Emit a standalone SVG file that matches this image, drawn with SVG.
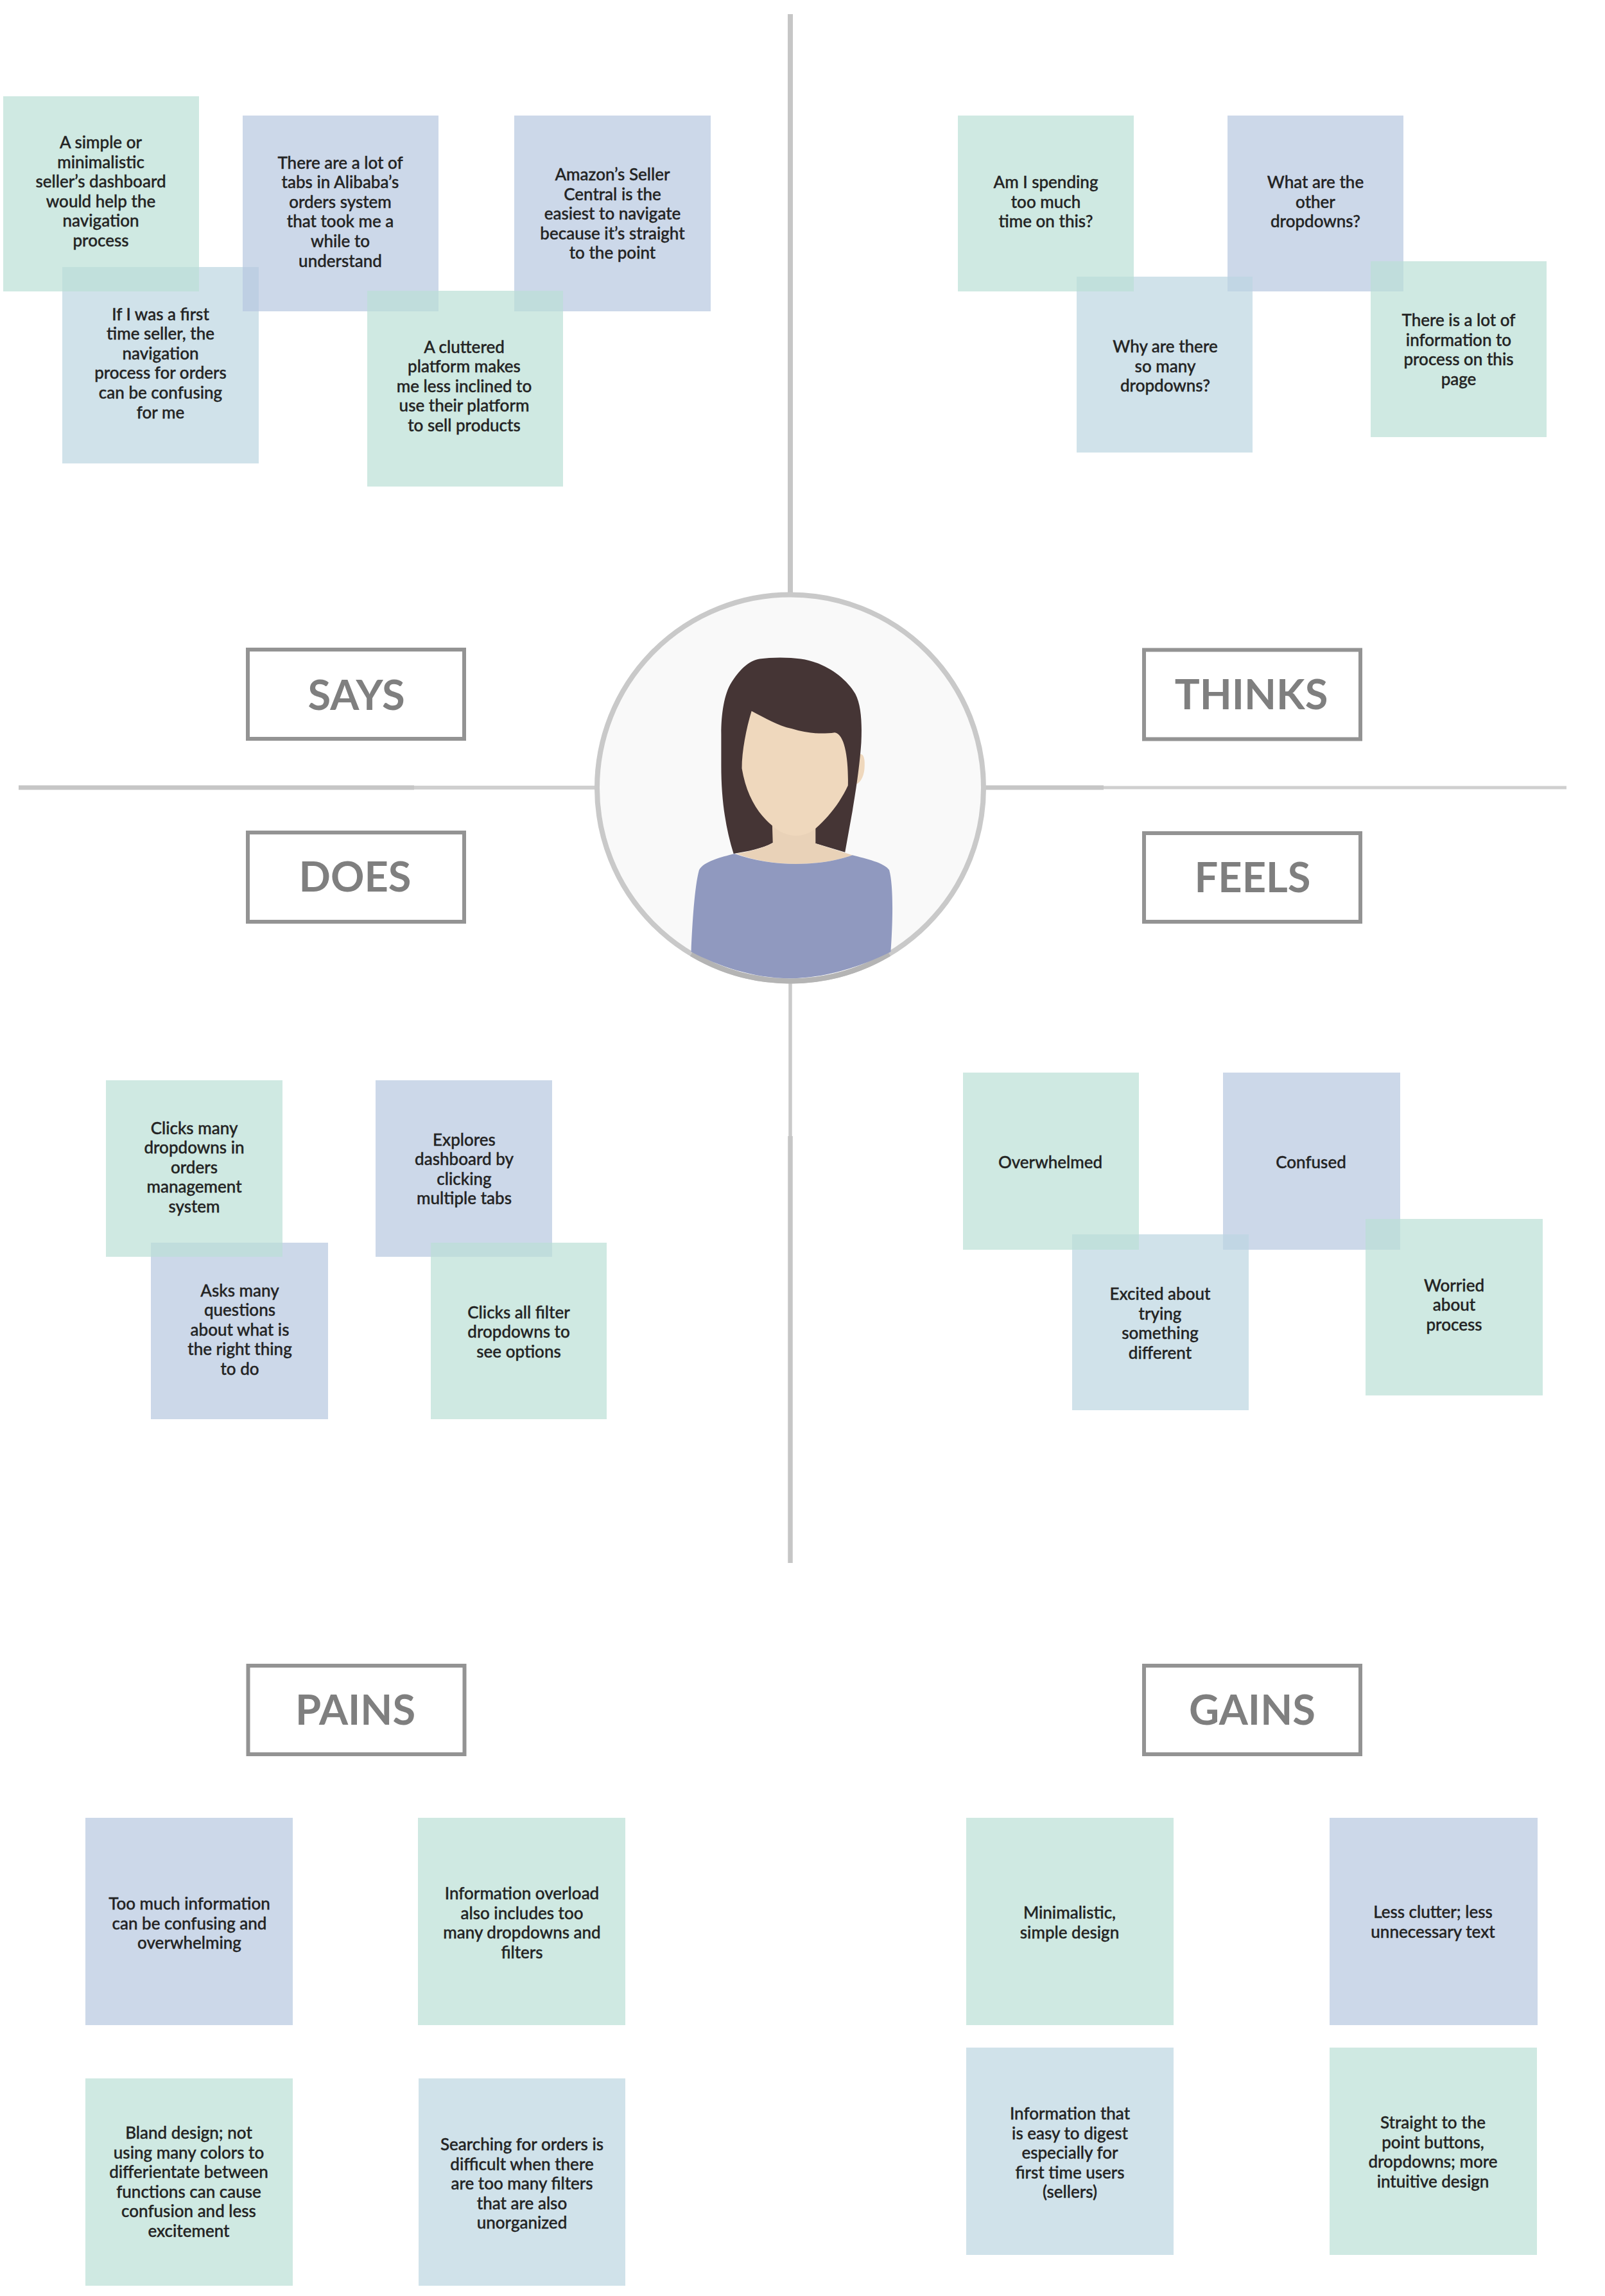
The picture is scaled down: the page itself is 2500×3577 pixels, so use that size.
<svg xmlns="http://www.w3.org/2000/svg" width="2500" height="3577" viewBox="0 0 2500 3577">
<style>
.g{fill:#bbe0d6;fill-opacity:.7}
.b{fill:#b6c7e0;fill-opacity:.7}
.l{fill:#bcd6e1;fill-opacity:.7}
.n{font-family:Lato,"Liberation Sans",sans-serif;font-size:26px;font-weight:500;fill:#232323;stroke:#232323;stroke-width:.4px;text-anchor:middle}
.t{font-family:Lato,"Liberation Sans",sans-serif;font-size:65px;font-weight:700;fill:#7f7f7f;text-anchor:middle}
.f{fill:#fff;stroke:#939393;stroke-width:6}
.c{stroke:#c6c6c6;fill:none}
.d{stroke:#cfcfcf;fill:none}
</style>
<rect width="2500" height="3577" fill="#fff"/>
<g id="connectors">
<line class="c" x1="1231" y1="22" x2="1231" y2="930" stroke-width="8"/>
<line class="d" x1="1231" y1="1525" x2="1231" y2="1772" stroke-width="5.500" style="stroke:#cacaca"/>
<line class="c" x1="1231" y1="1770" x2="1231" y2="2435" stroke-width="7.500"/>
<line class="c" x1="29" y1="1227" x2="645" y2="1227" stroke-width="7"/>
<line class="d" x1="645" y1="1227" x2="935" y2="1227" stroke-width="6"/>
<line class="c" x1="1530" y1="1227" x2="1719" y2="1227" stroke-width="7"/>
<line class="d" x1="1719" y1="1227" x2="2440" y2="1227" stroke-width="5"/>
</g>
<g id="persona">
<circle cx="1231" cy="1227.5" r="301" fill="#f9f9f9" stroke="#c9c9c9" stroke-width="8"/>
<path d="M1077 1486A301 301 0 0 0 1385 1486" fill="none" stroke="#b4b4b4" stroke-width="8"/>
<g transform="translate(880 880) scale(.4592 .4464)">
<path fill="#efd8bd" d="M1000 660C1015 660 1018 680 1016 710C1014 740 1000 765 985 765Z"/>
<path fill="#453535" d="M572 1008C545 920 530 820 530 700L530 590C530 520 540 450 565 410C590 370 620 335 660 328C700 322 760 322 800 328C880 340 950 390 985 450C1005 490 1008 550 1005 620C1000 700 985 800 975 860L950 1003L850 972L705 970C670 990 620 1000 572 1008Z"/>
<path fill="#e9d2b8" d="M703 905L705 970C670 990 620 1002 580 1008C700 1055 860 1055 975 1013L850 972L850 915Z"/>
<path fill="#efd8bd" d="M633 510C680 535 720 560 770 572C820 588 870 592 915 585C950 590 962 680 960 770C935 825 900 875 850 920C810 955 750 955 703 910C650 865 615 800 600 710C600 650 615 570 633 510Z"/>
<path fill="#9099bf" d="M575 1008C530 1020 470 1035 455 1065C440 1120 432 1250 428 1350C520 1400 640 1443 765 1443C880 1443 1010 1400 1105 1350C1112 1250 1115 1120 1100 1065C1085 1040 1020 1025 975 1013C860 1055 700 1055 575 1008Z"/>
</g>
</g>

<g id="says">
<g id="says-label"><rect class="f" x="386" y="1012" width="337" height="139"/><text class="t" x="555" y="1106">SAYS</text></g>
<g id="s4"><rect class="l" x="97" y="416" width="306" height="306"/><text class="n" y="498.500"><tspan x="250">If I was a first</tspan><tspan x="250" dy="30.6">time seller, the</tspan><tspan x="250" dy="30.6">navigation</tspan><tspan x="250" dy="30.6">process for orders</tspan><tspan x="250" dy="30.6">can be confusing</tspan><tspan x="250" dy="30.6">for me</tspan></text></g>
<g id="s2"><rect class="b" x="378" y="180" width="305" height="305"/><text class="n" y="262.6"><tspan x="530">There are a lot of</tspan><tspan x="530" dy="30.6">tabs in Alibaba’s</tspan><tspan x="530" dy="30.6">orders system</tspan><tspan x="530" dy="30.6">that took me a</tspan><tspan x="530" dy="30.6">while to</tspan><tspan x="530" dy="30.6">understand</tspan></text></g>
<g id="s3"><rect class="b" x="801" y="180" width="306" height="305"/><text class="n" y="281"><tspan x="954">Amazon’s Seller</tspan><tspan x="954" dy="30.6">Central is the</tspan><tspan x="954" dy="30.6">easiest to navigate</tspan><tspan x="954" dy="30.6">because it’s straight</tspan><tspan x="954" dy="30.6">to the point</tspan></text></g>
<g id="s1"><rect class="g" x="5" y="150" width="305" height="304"/><text class="n" y="231"><tspan x="157">A simple or</tspan><tspan x="157" dy="30.6">minimalistic</tspan><tspan x="157" dy="30.6">seller’s dashboard</tspan><tspan x="157" dy="30.6">would help the</tspan><tspan x="157" dy="30.6">navigation</tspan><tspan x="157" dy="30.6">process</tspan></text></g>
<g id="s5"><rect class="g" x="572" y="453" width="305" height="305"/><text class="n" y="549.6"><tspan x="723">A cluttered</tspan><tspan x="723" dy="30.6">platform makes</tspan><tspan x="723" dy="30.6">me less inclined to</tspan><tspan x="723" dy="30.6">use their platform</tspan><tspan x="723" dy="30.6">to sell products</tspan></text></g>
</g>

<g id="thinks">
<g id="thinks-label"><rect class="f" x="1782" y="1012.5" width="337" height="139"/><text class="t" x="1949" y="1105">THINKS</text></g>
<g id="t2"><rect class="b" x="1912" y="180" width="274" height="274"/><text class="n" y="293"><tspan x="2049">What are the</tspan><tspan x="2049" dy="30.6">other</tspan><tspan x="2049" dy="30.6">dropdowns?</tspan></text></g>
<g id="t3"><rect class="l" x="1677" y="431" width="274" height="274"/><text class="n" y="549"><tspan x="1815">Why are there</tspan><tspan x="1815" dy="30.6">so many</tspan><tspan x="1815" dy="30.6">dropdowns?</tspan></text></g>
<g id="t1"><rect class="g" x="1492" y="180" width="274" height="274"/><text class="n" y="293"><tspan x="1629">Am I spending</tspan><tspan x="1629" dy="30.6">too much</tspan><tspan x="1629" dy="30.6">time on this?</tspan></text></g>
<g id="t4"><rect class="g" x="2135" y="407" width="274" height="274"/><text class="n" y="508"><tspan x="2272">There is a lot of</tspan><tspan x="2272" dy="30.6">information to</tspan><tspan x="2272" dy="30.6">process on this</tspan><tspan x="2272" dy="30.6">page</tspan></text></g>
</g>

<g id="does">
<g id="does-label"><rect class="f" x="386" y="1297" width="337" height="139"/><text class="t" x="553" y="1389">DOES</text></g>
<g id="d3"><rect class="b" x="235" y="1936" width="276" height="275"/><text class="n" y="2019.6"><tspan x="373.500">Asks many</tspan><tspan x="373.500" dy="30.6">questions</tspan><tspan x="373.500" dy="30.6">about what is</tspan><tspan x="373.500" dy="30.6">the right thing</tspan><tspan x="373.500" dy="30.6">to do</tspan></text></g>
<g id="d2"><rect class="b" x="585" y="1683" width="275" height="275"/><text class="n" y="1784.500"><tspan x="723">Explores</tspan><tspan x="723" dy="30.6">dashboard by</tspan><tspan x="723" dy="30.6">clicking</tspan><tspan x="723" dy="30.6">multiple tabs</tspan></text></g>
<g id="d1"><rect class="g" x="165" y="1683" width="275" height="275"/><text class="n" y="1766.500"><tspan x="302.500">Clicks many</tspan><tspan x="302.500" dy="30.6">dropdowns in</tspan><tspan x="302.500" dy="30.6">orders</tspan><tspan x="302.500" dy="30.6">management</tspan><tspan x="302.500" dy="30.6">system</tspan></text></g>
<g id="d4"><rect class="g" x="671" y="1936" width="274" height="275"/><text class="n" y="2053.500"><tspan x="808">Clicks all filter</tspan><tspan x="808" dy="30.6">dropdowns to</tspan><tspan x="808" dy="30.6">see options</tspan></text></g>
</g>

<g id="feels">
<g id="feels-label"><rect class="f" x="1782" y="1298" width="337" height="138"/><text class="t" x="1951" y="1389.500">FEELS</text></g>
<g id="f2"><rect class="b" x="1905" y="1671" width="276" height="276"/><text class="n" y="1820"><tspan x="2042">Confused</tspan></text></g>
<g id="f3"><rect class="l" x="1670" y="1923" width="275" height="274"/><text class="n" y="2025"><tspan x="1807">Excited about</tspan><tspan x="1807" dy="30.6">trying</tspan><tspan x="1807" dy="30.6">something</tspan><tspan x="1807" dy="30.6">different</tspan></text></g>
<g id="f1"><rect class="g" x="1500" y="1671" width="274" height="276"/><text class="n" y="1820"><tspan x="1636">Overwhelmed</tspan></text></g>
<g id="f4"><rect class="g" x="2127" y="1899" width="276" height="275"/><text class="n" y="2011.500"><tspan x="2265">Worried</tspan><tspan x="2265" dy="30.6">about</tspan><tspan x="2265" dy="30.6">process</tspan></text></g>
</g>

<g id="pains">
<g id="pains-label"><rect class="f" x="386.500" y="2595" width="337" height="138"/><text class="t" x="553.500" y="2686.500">PAINS</text></g>
<g id="p1"><rect class="b" x="133" y="2832" width="323" height="323"/><text class="n" y="2975"><tspan x="295">Too much information</tspan><tspan x="295" dy="30.6">can be confusing and</tspan><tspan x="295" dy="30.6">overwhelming</tspan></text></g>
<g id="p2"><rect class="g" x="651" y="2832" width="323" height="323"/><text class="n" y="2959"><tspan x="813">Information overload</tspan><tspan x="813" dy="30.6">also includes too</tspan><tspan x="813" dy="30.6">many dropdowns and</tspan><tspan x="813" dy="30.6">filters</tspan></text></g>
<g id="p3"><rect class="g" x="133" y="3238" width="323" height="323"/><text class="n" y="3332"><tspan x="294">Bland design; not</tspan><tspan x="294" dy="30.6">using many colors to</tspan><tspan x="294" dy="30.6">differientate between</tspan><tspan x="294" dy="30.6">functions can cause</tspan><tspan x="294" dy="30.6">confusion and less</tspan><tspan x="294" dy="30.6">excitement</tspan></text></g>
<g id="p4"><rect class="l" x="652" y="3238" width="322" height="323"/><text class="n" y="3350"><tspan x="813">Searching for orders is</tspan><tspan x="813" dy="30.6">difficult when there</tspan><tspan x="813" dy="30.6">are too many filters</tspan><tspan x="813" dy="30.6">that are also</tspan><tspan x="813" dy="30.6">unorganized</tspan></text></g>
</g>

<g id="gains">
<g id="gains-label"><rect class="f" x="1782" y="2595" width="337" height="138"/><text class="t" x="1950.500" y="2686.500">GAINS</text></g>
<g id="g1"><rect class="g" x="1505" y="2832" width="323" height="323"/><text class="n" y="2989"><tspan x="1666">Minimalistic,</tspan><tspan x="1666" dy="30.6">simple design</tspan></text></g>
<g id="g2"><rect class="b" x="2071" y="2832" width="324" height="323"/><text class="n" y="2988"><tspan x="2232">Less clutter; less</tspan><tspan x="2232" dy="30.6">unnecessary text</tspan></text></g>
<g id="g3"><rect class="l" x="1505" y="3190" width="323" height="323"/><text class="n" y="3302"><tspan x="1666.500">Information that</tspan><tspan x="1666.500" dy="30.6">is easy to digest</tspan><tspan x="1666.500" dy="30.6">especially for</tspan><tspan x="1666.500" dy="30.6">first time users</tspan><tspan x="1666.500" dy="30.6">(sellers)</tspan></text></g>
<g id="g4"><rect class="g" x="2071" y="3190" width="323" height="323"/><text class="n" y="3316"><tspan x="2232">Straight to the</tspan><tspan x="2232" dy="30.6">point buttons,</tspan><tspan x="2232" dy="30.6">dropdowns; more</tspan><tspan x="2232" dy="30.6">intuitive design</tspan></text></g>
</g>
</svg>
